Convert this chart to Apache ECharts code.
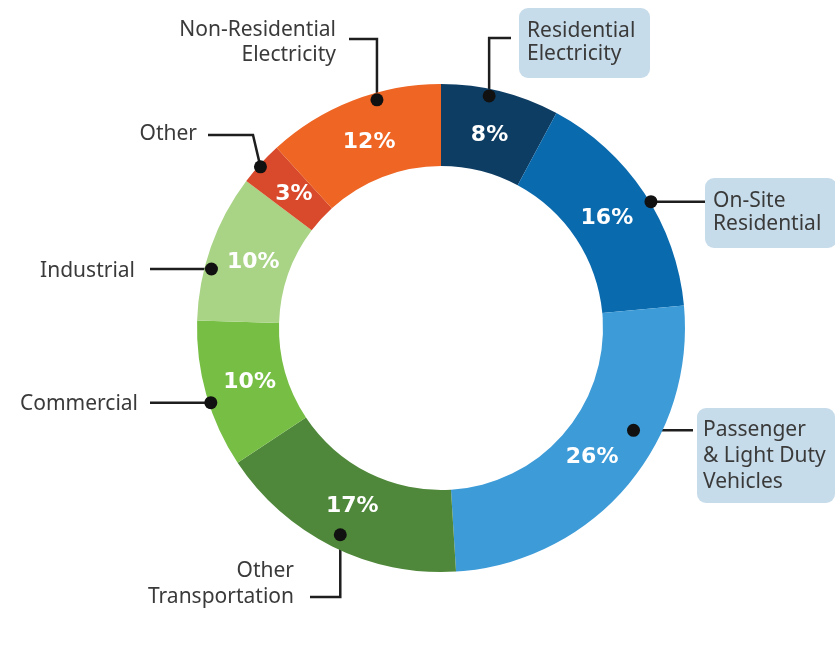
<!DOCTYPE html>
<html>
<head>
<meta charset="utf-8">
<script src="https://cdn.jsdelivr.net/npm/echarts@6/dist/echarts.min.js"></script>
<style>
  html, body { margin: 0; padding: 0; background: #ffffff; }
  #chart { width: 835px; height: 654px; }
</style>
</head>
<body>
<div id="chart"></div>
<script>
// Emission shares by source, clockwise from 12 o'clock
const categories = [
  'Residential Electricity',
  'On-Site Residential',
  'Passenger & Light Duty Vehicles',
  'Other Transportation',
  'Commercial',
  'Industrial',
  'Other',
  'Non-Residential Electricity'
];
const labelTexts = [
  'Residential\nElectricity',
  'On-Site\nResidential',
  'Passenger\n& Light Duty\nVehicles',
  'Other\nTransportation',
  'Commercial',
  'Industrial',
  'Other',
  'Non-Residential\nElectricity'
];
const shares = [8, 16, 26, 17, 10, 10, 3, 12];
const sliceColors = ['#0e3d64', '#0a6aae', '#3d9bd8', '#4f883a', '#77be45', '#a9d385', '#d9492b', '#ee6524'];
const boxedLabels = [true, true, true, false, false, false, false, false];

const CENTER = [441, 328];
const R_INNER = 162;
const R_OUTER = 244;
const NAME_FONT = '"Noto Sans", sans-serif';
const VALUE_FONT = '"DejaVu Sans", sans-serif';

// Leader placement per slice: anchor sits at (slice middle + dAng) on radius r;
// the line turns at turnY (vertical first) or runs straight across, ending at endX.
const leaders = [
  { dAng: -2.4, r: 237, turnY: 38,  endX: 511, lx: 519, ly: 8,   align: 'left',  va: 'top' },
  { dAng: 2.5,  r: 245, turnY: null, endX: 705, lx: 705, ly: 178, align: 'left',  va: 'top' },
  { dAng: -12.6, r: 218, turnY: null, endX: 693, lx: 697, ly: 408, align: 'left', va: 'top' },
  { dAng: -0.5, r: 230, turnY: 597, endX: 310, lx: 294, ly: 584, align: 'right', va: 'middle' },
  { dAng: -2.1, r: 242, turnY: null, endX: 150, lx: 138, ly: 404, align: 'right', va: 'middle' },
  { dAng: -5.0, r: 237, turnY: null, endX: 150, lx: 135, ly: 271, align: 'right', va: 'middle' },
  { dAng: -0.6, r: 242, turnY: 135, turnX: 253, endX: 208, lx: 197, ly: 134, align: 'right', va: 'middle' },
  { dAng: 5.5,  r: 237, turnY: 39,  endX: 349, lx: 336, ly: 43,  align: 'right', va: 'middle' }
];

const total = shares.reduce((a, b) => a + b, 0);
const midAngles = [];
let acc = 0;
shares.forEach(v => {
  midAngles.push((acc + v / 2) / total * 360);
  acc += v;
});

function anchorOf(i) {
  const L = leaders[i];
  const a = (midAngles[i] + L.dAng) * Math.PI / 180;
  return [CENTER[0] + L.r * Math.sin(a), CENTER[1] - L.r * Math.cos(a)];
}

function leaderPoints(i) {
  const L = leaders[i];
  const p = anchorOf(i);
  if (L.turnY == null) {
    return [p, [(p[0] + L.endX) / 2, p[1]], [L.endX, p[1]]];
  }
  const tx = L.turnX != null ? L.turnX : p[0];
  return [p, [tx, L.turnY], [L.endX, L.turnY]];
}

const ringData = categories.map((name, i) => ({
  name: name,
  value: shares[i],
  itemStyle: { color: sliceColors[i] }
}));

const boxStyles = [
  { width: 115, padding: [12, 8, 12, 8], lineHeight: 23 },
  { width: 116, padding: [12, 8, 12, 8], lineHeight: 23 },
  { width: 124, padding: [9, 8, 8, 6], lineHeight: 26 }
];

const nameData = categories.map((name, i) => ({
  name: name,
  value: shares[i],
  label: boxedLabels[i]
    ? Object.assign({ backgroundColor: '#c7dcea', borderRadius: 9 }, boxStyles[i])
    : { lineHeight: i === 3 ? 26 : 25 }
}));

const dots = categories.map((_, i) => {
  const p = anchorOf(i);
  return {
    type: 'circle',
    silent: true,
    z: 100,
    shape: { cx: p[0], cy: p[1], r: 6.5 },
    style: { fill: '#111111' }
  };
});

const chart = echarts.init(document.getElementById('chart'), null, { renderer: 'canvas' });
chart.setOption({
  backgroundColor: '#ffffff',
  animation: false,
  graphic: dots,
  series: [
    {
      // the ring itself
      type: 'pie',
      center: CENTER,
      radius: [R_INNER, R_OUTER],
      startAngle: 90,
      clockwise: true,
      silent: true,
      emphasis: { disabled: true },
      data: ringData,
      label: { show: false },
      labelLine: { show: false }
    },
    {
      // percentage labels, set slightly inside the ring's middle
      type: 'pie',
      center: CENTER,
      radius: [R_INNER - 14, R_OUTER],
      startAngle: 90,
      clockwise: true,
      silent: true,
      avoidLabelOverlap: false,
      emphasis: { disabled: true },
      itemStyle: { color: 'rgba(0,0,0,0)' },
      data: shares.map((v, i) => ({ name: categories[i], value: v })),
      label: {
        show: true,
        position: 'inside',
        formatter: '{c}%',
        color: '#ffffff',
        fontFamily: VALUE_FONT,
        fontWeight: 'bold',
        fontSize: 22
      },
      labelLine: { show: false }
    },
    {
      // category names with leader lines
      type: 'pie',
      center: CENTER,
      radius: [R_INNER, R_OUTER],
      startAngle: 90,
      clockwise: true,
      avoidLabelOverlap: false,
      silent: true,
      emphasis: { disabled: true },
      itemStyle: { color: 'rgba(0,0,0,0)' },
      data: nameData,
      label: {
        show: true,
        position: 'outside',
        formatter: p => labelTexts[p.dataIndex],
        color: '#3a3a3a',
        fontFamily: NAME_FONT,
        fontSize: 21
      },
      labelLine: {
        show: true,
        lineStyle: { color: '#1e1e1e', width: 2.5 }
      },
      labelLayout: params => {
        const i = params.dataIndex;
        const L = leaders[i];
        return {
          x: L.lx,
          y: L.ly,
          align: L.align,
          verticalAlign: L.va,
          labelLinePoints: leaderPoints(i)
        };
      }
    }
  ]
});
</script>
</body>
</html>
